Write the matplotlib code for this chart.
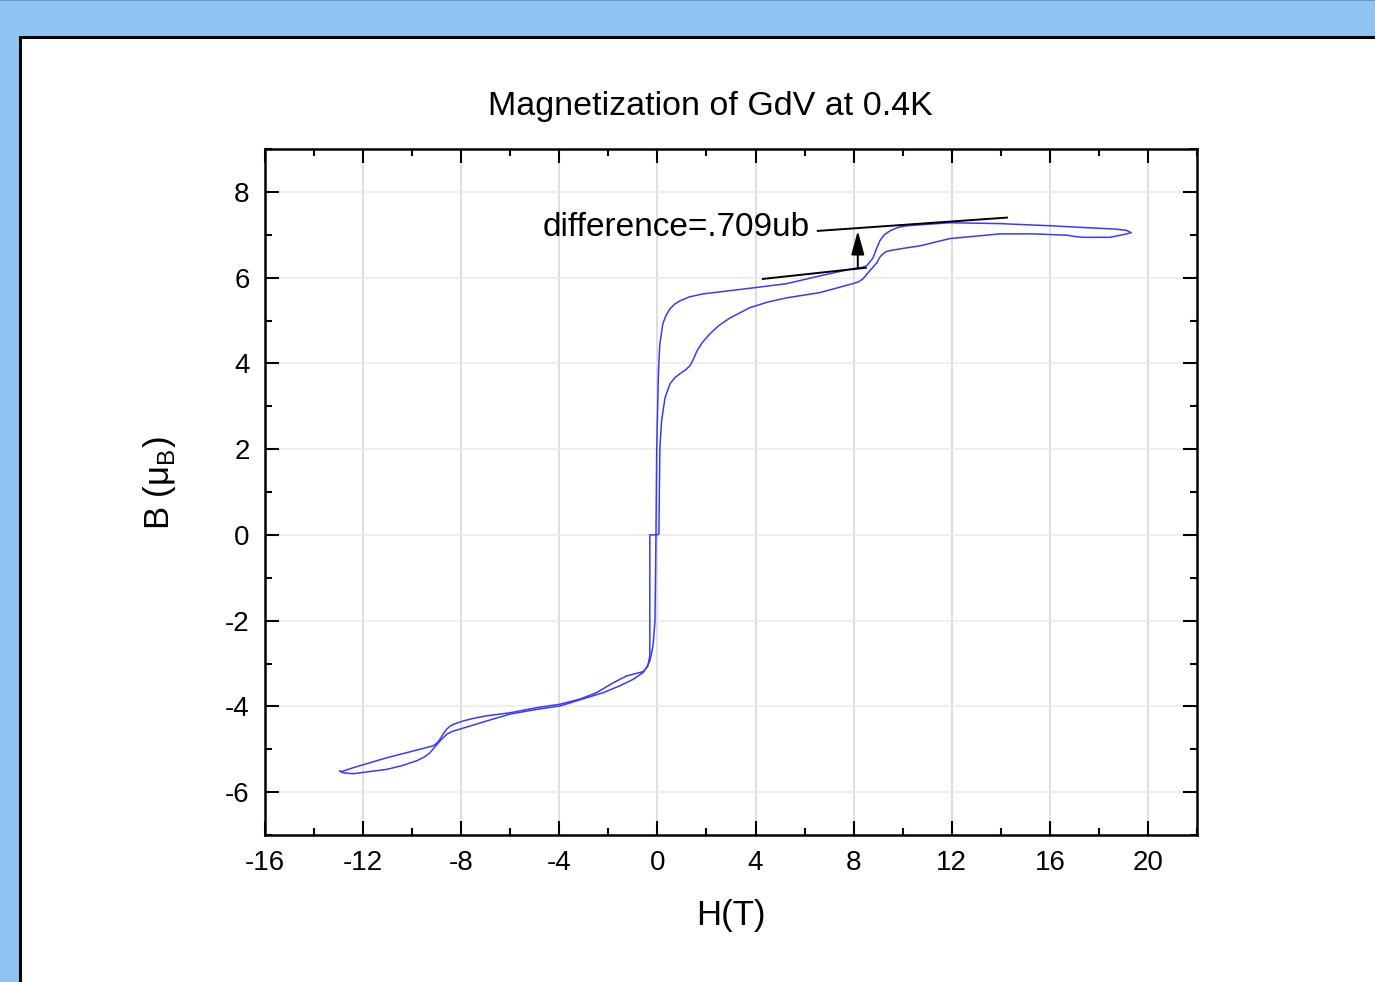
import matplotlib
matplotlib.use("Agg")
from matplotlib import pyplot as plt
from matplotlib.patches import Rectangle
from matplotlib.ticker import MultipleLocator

plt.rcParams['font.family'] = ['Liberation Sans', 'DejaVu Sans']
plt.rcParams['axes.unicode_minus'] = False

# descending branch: +19 T down to -13 T
H_down = [19.30, 19.14, 18.73, 17.35, 16.00, 13.96, 11.92, 10.17, 9.80, 9.48,
          9.25, 9.07, 8.92, 8.79, 8.54, 8.35, 7.97, 6.62, 5.28, 3.89,
          1.85, 1.30, 0.92, 0.70, 0.51, 0.35, 0.22, 0.10, 0.06, 0.03,
          -0.03, -0.06, -0.08, -0.10, -0.18, -0.31, -0.45, -0.58, -0.99, -1.53,
          -2.21, -2.89, -3.97, -4.92, -6.01, -6.96, -8.05, -8.35, -8.59, -8.87,
          -9.05, -9.27, -9.50, -9.82, -10.40, -11.04, -12.40, -12.81, -12.95]
M_down = [7.05, 7.10, 7.13, 7.17, 7.21, 7.26, 7.28, 7.21, 7.17, 7.09,
          7.00, 6.86, 6.66, 6.46, 6.28, 6.24, 6.21, 6.04, 5.86, 5.76,
          5.62, 5.55, 5.46, 5.38, 5.27, 5.12, 4.92, 4.46, 4.05, 3.52,
          1.96, 0.00, -1.07, -2.01, -2.59, -2.94, -3.10, -3.21, -3.37, -3.52,
          -3.68, -3.80, -3.99, -4.07, -4.18, -4.34, -4.53, -4.58, -4.65, -4.81,
          -4.93, -5.08, -5.18, -5.27, -5.38, -5.47, -5.57, -5.55, -5.51]

# ascending branch: -13 T back up to +19 T
H_up = [-12.95, -12.87, -12.40, -11.04, -9.68, -9.14, -9.00, -8.87, -8.73, -8.59,
        -8.45, -8.32, -7.92, -7.50, -6.96, -6.01, -4.92, -3.97, -3.16, -2.48,
        -1.80, -1.26, -0.58, -0.39, -0.31, -0.31, 0.00, 0.06, 0.10, 0.17,
        0.31, 0.51, 0.70, 0.92, 1.15, 1.32, 1.47, 1.61, 1.85, 2.14,
        2.50, 2.96, 3.77, 4.50, 5.28, 6.62, 7.97, 8.20, 8.38, 8.66,
        8.80, 8.95, 9.05, 9.15, 9.30, 9.48, 10.10, 10.70, 11.92, 13.96,
        15.31, 16.69, 17.00, 17.35, 18.45, 19.14, 19.30]
M_up = [-5.51, -5.52, -5.43, -5.20, -5.00, -4.92, -4.86, -4.77, -4.64, -4.53,
        -4.46, -4.42, -4.34, -4.28, -4.22, -4.15, -4.03, -3.95, -3.83, -3.68,
        -3.45, -3.29, -3.19, -3.06, -2.82, 0.00, 0.00, 0.02, 2.03, 2.66,
        3.20, 3.52, 3.66, 3.76, 3.85, 3.94, 4.10, 4.29, 4.50, 4.69,
        4.88, 5.06, 5.30, 5.43, 5.53, 5.65, 5.86, 5.90, 5.97, 6.16,
        6.25, 6.35, 6.46, 6.53, 6.60, 6.63, 6.69, 6.74, 6.91, 7.02,
        7.02, 6.99, 6.96, 6.94, 6.94, 7.02, 7.05]

# tangent lines used for the step estimate
upper_H = [6.54, 14.25]
upper_M = [7.09, 7.40]
lower_H = [4.30, 8.50]
lower_M = [5.97, 6.23]
arrow_H = 8.17
arrow_M = [6.23, 7.09]
note = 'difference=.709ub'

fig = plt.figure(figsize=(13.75, 9.82), dpi=100)
fig.patch.set_facecolor('#8ec3f3')
panel = Rectangle((20/1375, -0.02), 1.0, 1 - 37/982 + 0.02,
                  transform=fig.transFigure, facecolor='white',
                  edgecolor='black', linewidth=2.2, zorder=-5)
fig.add_artist(panel)
fig.add_artist(plt.Line2D([0, 1], [0.9995, 0.9995], transform=fig.transFigure,
                          color='#6d8db0', lw=1.2, zorder=-4))

ax = fig.add_axes([265/1375, 1 - 835/982, 932/1375, 686/982])
ax.set_zorder(2)
ax.set_facecolor('white')

ax.plot(H_down, M_down, color='#3a3aff', lw=1.1)
ax.plot(H_up, M_up, color='#3a3aff', lw=1.1)

ax.plot(upper_H, upper_M, color='black', lw=1.4)
ax.plot(lower_H, lower_M, color='black', lw=1.4)
ax.annotate('', xy=(arrow_H, arrow_M[1]), xytext=(arrow_H, arrow_M[0]),
            arrowprops=dict(arrowstyle='-|>,head_length=0.8,head_width=0.22',
                            color='black', lw=1.4, mutation_scale=18,
                            shrinkA=0, shrinkB=0))
ax.text(6.22, 7.16, note, ha='right', va='center', fontsize=24)

ax.set_xlim(-16, 22)
ax.set_ylim(-7, 9)
ax.xaxis.set_major_locator(MultipleLocator(4))
ax.xaxis.set_minor_locator(MultipleLocator(2))
ax.yaxis.set_major_locator(MultipleLocator(2))
ax.yaxis.set_minor_locator(MultipleLocator(1))
ax.set_xticks(range(-16, 21, 4))
ax.set_yticks(range(-6, 9, 2))

ax.grid(axis='x', which='major', color='#d8d8d8', lw=1.2)
ax.grid(axis='y', which='major', color='#ececec', lw=1.2)
ax.set_axisbelow(True)

ax.tick_params(which='both', direction='in', top=True, right=True,
               labelsize=20, width=1.5)
ax.tick_params(which='major', length=10, pad=11)
ax.tick_params(which='minor', length=5)
for s in ax.spines.values():
    s.set_linewidth(1.8)

fig.text(710/1375, 1 - 106/982, 'Magnetization of GdV at 0.4K',
         ha='center', va='center', fontsize=24.5)
fig.text(731/1375, 1 - 915/982, 'H(T)', ha='center', va='center', fontsize=25)
fig.text(160/1375, 1 - 483/982, 'B (μ$_\\mathregular{B}$)', ha='center',
         va='center', fontsize=25, rotation=90)

fig.savefig('out.png', dpi=100, facecolor=fig.get_facecolor())
